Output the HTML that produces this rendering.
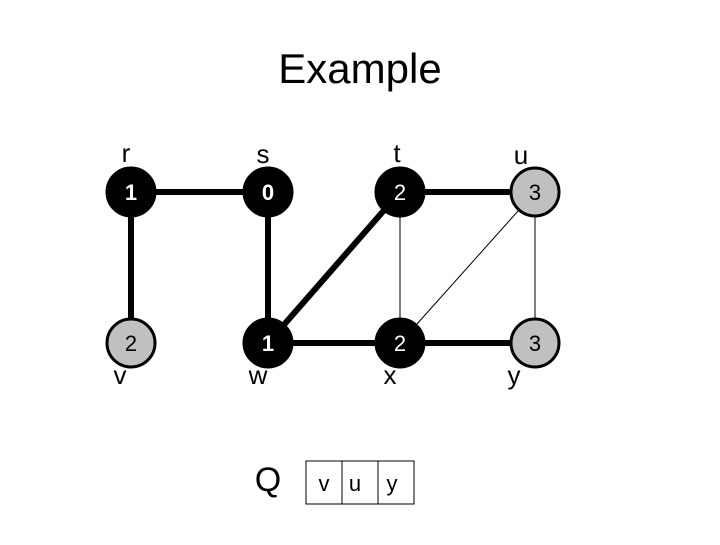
<!DOCTYPE html>
<html><head><style>body{margin:0;background:#fff}</style></head><body>
<svg width="720" height="540" xmlns="http://www.w3.org/2000/svg" font-family="Liberation Sans, Arial, sans-serif">
<rect width="720" height="540" fill="#fff"/>
<text x="360" y="83" font-size="42" text-anchor="middle">Example</text>
<g stroke="#000">
<line x1="131" y1="192" x2="268" y2="192" stroke-width="6"/>
<line x1="131" y1="192" x2="131" y2="343" stroke-width="6"/>
<line x1="268" y1="192" x2="268" y2="343" stroke-width="6"/>
<line x1="400" y1="192" x2="535" y2="192" stroke-width="6"/>
<line x1="400" y1="192" x2="268" y2="343" stroke-width="6"/>
<line x1="268" y1="343" x2="535" y2="343" stroke-width="6"/>
<line x1="400" y1="192" x2="400" y2="343" stroke-width="1"/>
<line x1="400" y1="343" x2="535" y2="192" stroke-width="1"/>
<line x1="535" y1="192" x2="535" y2="343" stroke-width="1"/>
</g>
<g stroke="#000" stroke-width="3">
<circle cx="131" cy="192" r="24" fill="#000"/>
<circle cx="268" cy="192" r="24" fill="#000"/>
<circle cx="400" cy="192" r="24" fill="#000"/>
<circle cx="535" cy="192" r="24" fill="#c0c0c0"/>
<circle cx="131" cy="343" r="24" fill="#c0c0c0"/>
<circle cx="268" cy="343" r="24" fill="#000"/>
<circle cx="400" cy="343" r="24" fill="#000"/>
<circle cx="535" cy="343" r="24" fill="#c0c0c0"/>
</g>
<g font-size="22" text-anchor="middle">
<text x="131" y="200" fill="#fff" font-weight="bold">1</text>
<text x="268" y="200" fill="#fff" font-weight="bold">0</text>
<text x="400" y="200" fill="#fff">2</text>
<text x="535" y="200">3</text>
<text x="131" y="351">2</text>
<text x="268" y="351" fill="#fff" font-weight="bold">1</text>
<text x="400" y="351" fill="#fff">2</text>
<text x="535" y="351">3</text>
</g>
<g font-size="26" text-anchor="middle">
<text x="126" y="162">r</text>
<text x="263" y="163">s</text>
<text x="397" y="162">t</text>
<text x="521" y="164">u</text>
<text x="120" y="384">v</text>
<text x="258" y="384">w</text>
<text x="390" y="384">x</text>
<text x="514" y="384">y</text>
</g>
<text x="268" y="491" font-size="34" text-anchor="middle">Q</text>
<rect x="306" y="461" width="108" height="43" fill="none" stroke="#000" stroke-width="1"/>
<line x1="342" y1="461" x2="342" y2="504" stroke="#000"/>
<line x1="378" y1="461" x2="378" y2="504" stroke="#000"/>
<g font-size="22" text-anchor="middle">
<text x="324" y="491">v</text>
<text x="355" y="491">u</text>
<text x="392" y="491">y</text>
</g>
</svg>
</body></html>
